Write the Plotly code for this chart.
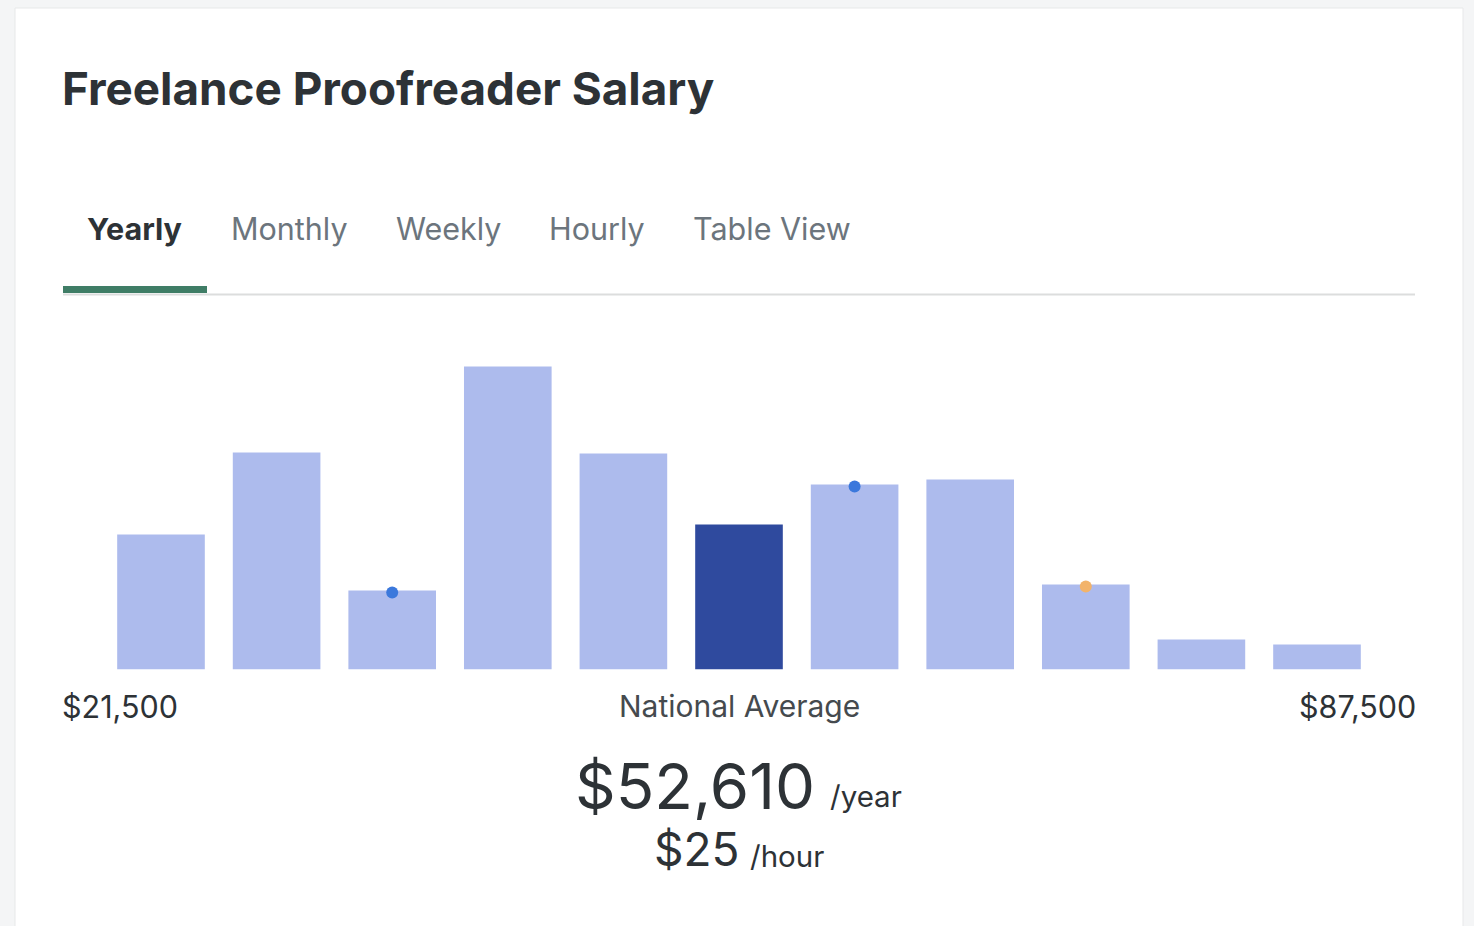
import plotly.graph_objects as go

W, H = 1474, 926

# ---- data ----
bin_starts = [21500, 27500, 33500, 39500, 45500, 51500, 57500, 63500, 69500, 75500, 81500]
bin_width = 6000
bar_heights = [135, 217, 79, 303, 216, 145, 185, 190, 85, 30, 25]
highlight_index = 5
blue_dot_bins = [2, 6]
orange_dot_bins = [8]
tabs = ["Yearly", "Monthly", "Weekly", "Hourly", "Table View"]
min_label = "$21,500"
max_label = "$87,500"
avg_yearly = "$52,610"
avg_hourly = "$25"
title = "Freelance Proofreader Salary"

# ---- styles ----
BAR = "#adbbed"
BAR_DARK = "#2f4a9e"
DOT_BLUE = "#3b78dc"
DOT_ORANGE = "#f2b36a"
TXT = "#2d3236"
GRAY = "#6c757d"
FONT = "Inter, Roboto, Liberation Sans, sans-serif"

def px(x):
    return x / W

def py(y):
    return 1 - y / H

centers = [s + bin_width / 2 for s in bin_starts]
colors = [BAR_DARK if i == highlight_index else BAR for i in range(len(bar_heights))]

fig = go.Figure()
fig.add_trace(go.Bar(x=centers, y=bar_heights, marker=dict(color=colors, line=dict(width=0)),
                     width=bin_width * 0.758, hoverinfo="skip"))
fig.add_trace(go.Scatter(x=[centers[i] for i in blue_dot_bins],
                         y=[bar_heights[i] - 2 for i in blue_dot_bins],
                         mode="markers", marker=dict(color=DOT_BLUE, size=12), hoverinfo="skip"))
fig.add_trace(go.Scatter(x=[centers[i] for i in orange_dot_bins],
                         y=[bar_heights[i] - 2 for i in orange_dot_bins],
                         mode="markers", marker=dict(color=DOT_ORANGE, size=12), hoverinfo="skip"))

base_px, top_px = 669.5, 330
fig.update_layout(
    width=W, height=H, margin=dict(l=0, r=0, t=0, b=0),
    paper_bgcolor="#f4f5f6", plot_bgcolor="rgba(0,0,0,0)",
    showlegend=False,
    xaxis=dict(domain=[px(103.2), px(1374.8)], range=[bin_starts[0], bin_starts[-1] + bin_width],
               visible=False, fixedrange=True),
    yaxis=dict(domain=[py(base_px), py(top_px)], range=[0, base_px - top_px],
               visible=False, fixedrange=True),
)

shapes = [
    dict(type="rect", xref="paper", yref="paper", x0=px(15), x1=px(1463), y0=py(940), y1=py(8),
         fillcolor="white", line=dict(color="#e7e8e9", width=1), layer="below"),
    dict(type="line", xref="paper", yref="paper", x0=px(63), x1=px(1415), y0=py(294.5), y1=py(294.5),
         line=dict(color="#dcdddd", width=2)),
    dict(type="rect", xref="paper", yref="paper", x0=px(63), x1=px(207), y0=py(293), y1=py(286),
         fillcolor="#3f7d66", line=dict(width=0)),
]
fig.update_layout(shapes=shapes)

ann = []
def A(text, x, y, size, color=TXT, xanchor="left", bold=False):
    t = f"<b>{text}</b>" if bold else text
    ann.append(dict(text=t, x=px(x), y=py(y), xref="paper", yref="paper", xanchor=xanchor,
                    yanchor="middle", showarrow=False, font=dict(family=FONT, size=size, color=color)))

A(title, 60, 88, 45.8, bold=True)
tab_x = [88, 232, 397, 550, 694]
for i, (t, x) in enumerate(zip(tabs, tab_x)):
    A(t, x - 3, 228, 30.5, color=TXT if i == 0 else GRAY, bold=(i == 0))
A(min_label, 60, 706, 30.5)
A("National Average", 739, 706, 30, color="#454a4e", xanchor="center")
A(max_label, 1418, 706, 30.5, xanchor="right")
A(avg_yearly, 817, 785, 63.5, xanchor="right")
A("/year", 828, 796, 29.5)
A(avg_hourly, 742, 849, 46, xanchor="right")
A("/hour", 748, 856, 29.5)
fig.update_layout(annotations=ann)

fig.write_html("out.html")
